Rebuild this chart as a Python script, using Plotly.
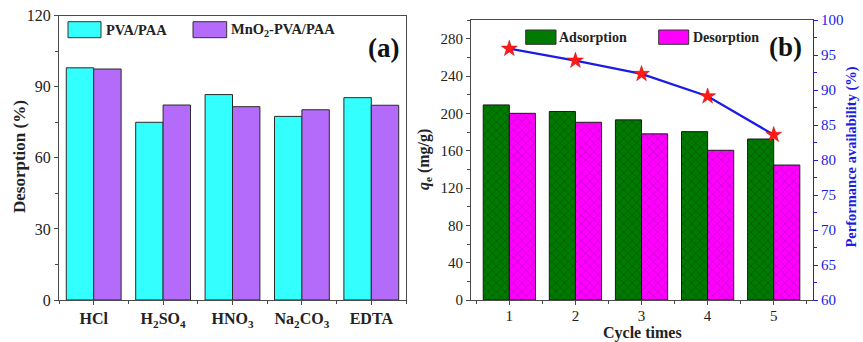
import plotly.graph_objects as go

# ---------------- data ----------------
acids = ["HCl", "H<sub>2</sub>SO<sub>4</sub>", "HNO<sub>3</sub>",
         "Na<sub>2</sub>CO<sub>3</sub>", "EDTA"]
pva_paa = [98.0, 75.0, 86.7, 77.5, 85.4]
mno2_pva_paa = [97.5, 82.3, 81.6, 80.3, 82.2]
series_a = ["PVA/PAA", "MnO<sub>2</sub>-PVA/PAA"]

cycles = [1, 2, 3, 4, 5]
adsorption = [209.0, 202.0, 193.0, 180.4, 172.5]
desorption = [200.0, 190.4, 178.0, 160.4, 144.6]
performance = [95.9, 94.2, 92.3, 89.1, 83.6]
series_b = ["Adsorption", "Desorption"]

# ---------------- style ----------------
W, H = 863, 342
FONT = "Liberation Serif, Times New Roman, serif"
AX = "#4a4a4a"
BLUE = "#1c1ce6"
CYAN = "#33ffff"
PURPLE = "#b46bfa"
GREEN = "#007a00"
MAGENTA = "#ff00ff"


def px_x(x):
    return x / W


def px_y(y):
    return 1 - y / H


idx = list(range(len(acids)))

fig = go.Figure()

# panel (a)
fig.add_trace(go.Bar(x=idx, y=pva_paa, name=series_a[0], xaxis="x", yaxis="y",
                     marker=dict(color=CYAN, line=dict(color="#2a2a2a", width=1)),
                     showlegend=False))
fig.add_trace(go.Bar(x=idx, y=mno2_pva_paa, name=series_a[1], xaxis="x", yaxis="y",
                     marker=dict(color=PURPLE, line=dict(color="#2a2a2a", width=1)),
                     showlegend=False))

# panel (b)
fig.add_trace(go.Bar(x=cycles, y=adsorption, name=series_b[0], xaxis="x2", yaxis="y2",
                     marker=dict(color=GREEN, line=dict(color="#1a1a1a", width=1),
                                 pattern=dict(shape="x", size=6, solidity=0.25,
                                              fgcolor="#003a00", bgcolor=GREEN)),
                     showlegend=False))
fig.add_trace(go.Bar(x=cycles, y=desorption, name=series_b[1], xaxis="x2", yaxis="y2",
                     marker=dict(color=MAGENTA, line=dict(color="#1a1a1a", width=1),
                                 pattern=dict(shape="x", size=6, solidity=0.25,
                                              fgcolor="#9a009a", bgcolor=MAGENTA)),
                     showlegend=False))
fig.add_trace(go.Scatter(x=cycles, y=performance, xaxis="x2", yaxis="y3",
                         mode="lines+markers", name="Performance availability",
                         line=dict(color=BLUE, width=2.2),
                         marker=dict(symbol="star", size=12, color="#ff1a1a",
                                     line=dict(color="#cc0000", width=0.5)),
                         showlegend=False))

common_axis = dict(showline=True, linecolor=AX, linewidth=1.2, ticks="outside",
                   tickcolor=AX, ticklen=4, tickwidth=1.2, showgrid=False,
                   zeroline=False, automargin=False, ticklabeloverflow="allow")

fig.update_layout(
    width=W, height=H,
    margin=dict(l=0, r=0, t=0, b=0),
    paper_bgcolor="white", plot_bgcolor="white",
    barmode="group", bargap=0.21, bargroupgap=0,
    font=dict(family=FONT, color="#222"),
    xaxis=dict(domain=[px_x(59), px_x(406)], range=[-0.5, 4.5],
               tickvals=idx, ticktext=["<b>%s</b>" % a for a in acids],
               tickfont=dict(family=FONT, size=16, color="#222"),
               mirror=True,
               minor=dict(dtick=0.5, tick0=-0.5, ticks="outside", ticklen=3,
                          tickcolor=AX),
               anchor="y", **common_axis),
    yaxis=dict(domain=[px_y(300), px_y(15.7)], range=[0, 120],
               tickvals=[0, 30, 60, 90, 120],
               tickfont=dict(family=FONT, size=16, color="#222"),
               mirror=True,
               minor=dict(dtick=15, ticks="outside", ticklen=3, tickcolor=AX),
               anchor="x", **common_axis),
    xaxis2=dict(domain=[px_x(471), px_x(812.7)], range=[0.42, 5.59],
                tickvals=cycles, tickfont=dict(family=FONT, size=15, color="#222"),
                mirror=True, ticklabelstandoff=-2,
                minor=dict(dtick=0.5, tick0=0.5, ticks="outside", ticklen=3,
                           tickcolor=AX),
                anchor="y2", **common_axis),
    yaxis2=dict(domain=[px_y(300), px_y(20)], range=[0, 300],
                tickvals=[0, 40, 80, 120, 160, 200, 240, 280],
                tickfont=dict(family=FONT, size=15, color="#222"),
                minor=dict(dtick=20, ticks="outside", ticklen=3, tickcolor=AX),
                anchor="x2", **common_axis),
    yaxis3=dict(domain=[px_y(300), px_y(20)], range=[60, 100],
                overlaying="y2", side="right", anchor="x2",
                tickvals=list(range(60, 101, 5)),
                tickfont=dict(family=FONT, size=15, color=BLUE),
                showline=True, linecolor=BLUE, linewidth=1.4,
                ticks="outside", tickcolor=BLUE, ticklen=4, tickwidth=1.2,
                minor=dict(dtick=2.5, ticks="outside", ticklen=3, tickcolor=BLUE),
                showgrid=False, zeroline=False, automargin=False,
                ticklabeloverflow="allow"),
)

shapes = []
annotations = []


def legend_item(x0, x1, y0, y1, color, text, tx, size):
    shapes.append(dict(type="rect", xref="paper", yref="paper",
                       x0=px_x(x0), x1=px_x(x1), y0=px_y(y1), y1=px_y(y0),
                       fillcolor=color, line=dict(color="#333", width=1)))
    annotations.append(dict(xref="paper", yref="paper", x=px_x(tx),
                            y=px_y((y0 + y1) / 2), xanchor="left", yanchor="middle",
                            text="<b>%s</b>" % text, showarrow=False,
                            font=dict(family=FONT, size=size, color="#222")))


legend_item(68, 101, 21.7, 37.7, CYAN, series_a[0], 104, 14.5)
legend_item(193, 226.7, 21.7, 37.7, PURPLE, series_a[1], 229, 14.5)
legend_item(525.7, 556, 30, 44.3, GREEN, series_b[0], 557, 14)
legend_item(658.7, 688.7, 30, 44.3, MAGENTA, series_b[1], 691, 14)


def text(x, y, t, size, color="#222", angle=0):
    annotations.append(dict(xref="paper", yref="paper", x=px_x(x), y=px_y(y),
                            text=t, showarrow=False, xanchor="center",
                            yanchor="middle", textangle=angle,
                            font=dict(family=FONT, size=size, color=color)))


text(383, 48, "<b>(a)</b>", 27, "#111")
text(785, 47, "<b>(b)</b>", 27, "#111")
text(20, 157, "<b>Desorption (%)</b>", 17, angle=-90)
text(424, 160, "<b><i>q</i><sub>e</sub> (mg/g)</b>", 16, angle=-90)
text(851.5, 157, "<b>Performance availability (%)</b>", 14.5, BLUE, angle=-90)
text(642, 333, "<b>Cycle times</b>", 16)

fig.update_layout(shapes=shapes, annotations=annotations)

# remove the default page margin so the figure fills the window exactly
fig.write_html("out.html",
               config={"displayModeBar": False},
               post_script="document.body.style.margin='0';"
                           "document.body.style.overflow='hidden';")
